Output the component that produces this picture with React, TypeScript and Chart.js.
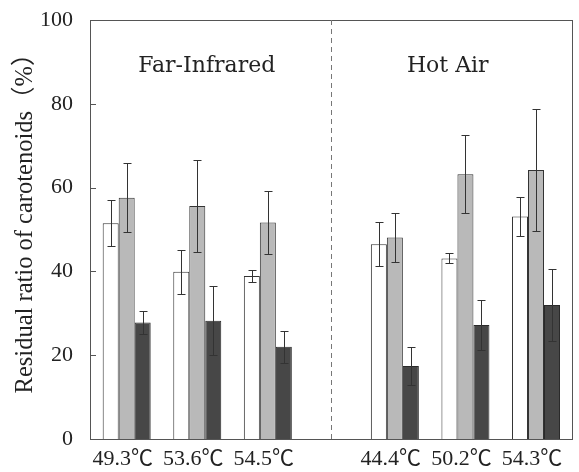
import React, { useEffect, useRef } from 'react';
import { Chart, registerables } from 'chart.js';

Chart.register(...registerables);

const categories = ['49.3℃', '53.6℃', '54.5℃', '44.4℃', '50.2℃', '54.3℃'];
const groupLabels = ['Far-Infrared', 'Hot Air'];
const whiteValues = [51.5, 39.9, 38.9, 46.5, 43.1, 53.1];
const whiteErrors = [5.5, 5.2, 1.5, 5.3, 1.2, 4.6];
const grayValues = [57.6, 55.6, 51.7, 48.1, 63.2, 64.2];
const grayErrors = [8.3, 11.0, 7.6, 5.8, 9.3, 14.5];
const darkValues = [27.8, 28.2, 22.0, 17.4, 27.2, 32.0];
const darkErrors = [2.7, 8.2, 3.8, 4.5, 6.0, 8.5];
const yTicks = [0, 20, 40, 60, 80, 100];
const yTitle = 'Residual ratio of carotenoids（%）';

const FIRST_GROUP_SIZE = 3;
const GAP = 0.8;
const TEXT_FONT = "'DejaVu Serif', 'Noto Sans CJK JP', serif";
const NUM_FONT = "'Liberation Serif', 'Noto Sans CJK JP', serif";
const INK = '#333333';

export default function App() {
  const ref = useRef<HTMLCanvasElement>(null);

  useEffect(() => {
    const positions = categories.map((_, i) => i + (i >= FIRST_GROUP_SIZE ? GAP : 0));
    const mk = (vals: number[]) => vals.map((v, i) => ({ x: positions[i], y: v }));
    const errorSets = [whiteErrors, grayErrors, darkErrors];
    const dividerPos = (positions[FIRST_GROUP_SIZE - 1] + positions[FIRST_GROUP_SIZE]) / 2;

    const decor = {
      id: 'decor',
      afterDatasetsDraw(chart: any) {
        const ctx = chart.ctx;
        const ys = chart.scales.y;
        ctx.save();
        ctx.strokeStyle = INK;
        ctx.lineWidth = 1;
        chart.data.datasets.forEach((ds: any, di: number) => {
          const meta = chart.getDatasetMeta(di);
          const errs = errorSets[di];
          meta.data.forEach((bar: any, i: number) => {
            const v = (ds.data[i] as any).y;
            const e = errs[i];
            const x = Math.round(bar.x) + 0.5;
            const yTop = Math.round(ys.getPixelForValue(v + e)) + 0.5;
            const yBot = Math.round(ys.getPixelForValue(v - e)) + 0.5;
            ctx.beginPath();
            ctx.moveTo(x, yTop);
            ctx.lineTo(x, yBot);
            ctx.moveTo(x - 4, yTop);
            ctx.lineTo(x + 4, yTop);
            ctx.moveTo(x - 4, yBot);
            ctx.lineTo(x + 4, yBot);
            ctx.stroke();
          });
        });
        ctx.restore();
      },
      afterDraw(chart: any) {
        const ctx = chart.ctx;
        const { left, right, top, bottom } = chart.chartArea;
        const xs = chart.scales.x;
        const ys = chart.scales.y;
        ctx.save();
        ctx.strokeStyle = '#555555';
        ctx.lineWidth = 1;
        ctx.strokeRect(Math.round(left) + 0.5, Math.round(top) + 0.5, Math.round(right - left), Math.round(bottom - top));
        ctx.beginPath();
        yTicks.forEach((t) => {
          const y = Math.round(ys.getPixelForValue(t)) + 0.5;
          ctx.moveTo(left, y);
          ctx.lineTo(left + 6, y);
        });
        ctx.stroke();
        const dx = Math.round(xs.getPixelForValue(dividerPos)) + 0.5;
        ctx.strokeStyle = '#777777';
        ctx.setLineDash([5, 4]);
        ctx.beginPath();
        ctx.moveTo(dx, top);
        ctx.lineTo(dx, bottom);
        ctx.stroke();
        ctx.setLineDash([]);
        ctx.fillStyle = '#222222';
        ctx.font = `22px ${TEXT_FONT}`;
        ctx.textAlign = 'center';
        ctx.textBaseline = 'alphabetic';
        const ty = ys.getPixelForValue(87.7);
        ctx.fillText(groupLabels[0], (left + dx) / 2 - 4, ty);
        ctx.fillText(groupLabels[1], (dx + right) / 2 - 4, ty);
        // y axis title
        ctx.save();
        ctx.translate(31.5, (top + bottom) / 2 - 12);
        ctx.rotate(-Math.PI / 2);
        ctx.font = `24.5px ${NUM_FONT}`;
        ctx.textAlign = 'center';
        ctx.textBaseline = 'alphabetic';
        ctx.fillText(yTitle, 0, 0);
        ctx.restore();
        ctx.restore();
      },
    };

    const chart = new Chart(ref.current as HTMLCanvasElement, {
      type: 'bar',
      data: {
        datasets: [
          { label: 'white', data: mk(whiteValues), backgroundColor: '#ffffff', borderColor: INK, borderWidth: 1 },
          { label: 'gray', data: mk(grayValues), backgroundColor: '#b9b9b9', borderColor: INK, borderWidth: 1 },
          { label: 'dark', data: mk(darkValues), backgroundColor: '#474747', borderColor: '#2a2a2a', borderWidth: 1 },
        ] as any,
      },
      options: {
        animation: false,
        responsive: false,
        maintainAspectRatio: false,
        layout: { padding: { top: 20, right: 7, left: 0, bottom: 0 } },
        plugins: { legend: { display: false }, tooltip: { enabled: false } },
        datasets: { bar: { categoryPercentage: 0.68, barPercentage: 1 } },
        scales: {
          x: {
            type: 'linear',
            min: -0.52,
            max: 6.31,
            offset: false,
            grid: { display: false, drawTicks: false },
            border: { display: false },
            afterBuildTicks: (s: any) => {
              s.ticks = positions.map((v) => ({ value: v }));
            },
            afterFit: (s: any) => {
              s.height = 33;
              s.paddingLeft = 0;
              s.paddingRight = 0;
            },
            ticks: {
              autoSkip: false,
              maxRotation: 0,
              minRotation: 0,
              padding: 7,
              labelOffset: -4,
              color: '#222222',
              font: { family: NUM_FONT, size: 22 },
              callback: (_v: any, i: number) => categories[i],
            },
          },
          y: {
            min: 0,
            max: 100,
            grid: { display: false, drawTicks: false },
            border: { display: false },
            afterBuildTicks: (s: any) => {
              s.ticks = yTicks.map((v) => ({ value: v }));
            },
            afterFit: (s: any) => {
              s.width = 90;
              s.paddingTop = 0;
              s.paddingBottom = 0;
            },
            ticks: {
              padding: 17,
              color: '#222222',
              font: { family: NUM_FONT, size: 22 },
            },
            title: { display: false },
          },
        },
      } as any,
      plugins: [decor],
    });
    return () => chart.destroy();
  }, []);

  return (
    <div style={{ position: 'fixed', left: 0, top: 0, width: 579, height: 472, background: '#ffffff' }}>
      <canvas ref={ref} width={579} height={472} style={{ display: 'block' }} />
    </div>
  );
}
